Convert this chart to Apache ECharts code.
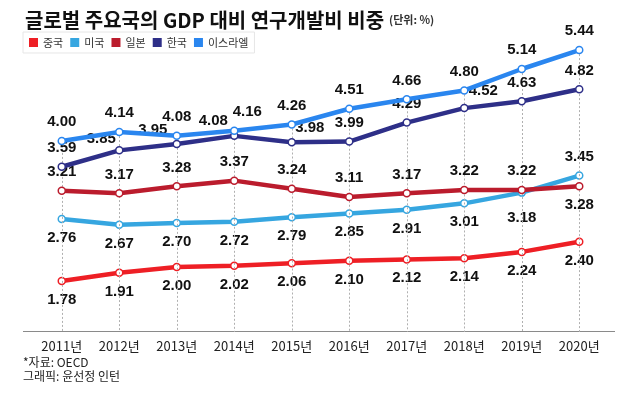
<!DOCTYPE html>
<html>
<head>
<meta charset="utf-8">
<script src="https://cdn.jsdelivr.net/npm/echarts@6/dist/echarts.min.js"></script>
<style>
html,body{margin:0;padding:0;background:#fff;}
#c{width:640px;height:395px;}
</style>
</head>
<body>
<div id="c"></div>
<script>
const years = ['2011년','2012년','2013년','2014년','2015년','2016년','2017년','2018년','2019년','2020년'];
const seriesNames = ['중국','미국','일본','한국','이스라엘'];
const china  = [1.78,1.91,2.00,2.02,2.06,2.10,2.12,2.14,2.24,2.40];
const usa    = [2.76,2.67,2.70,2.72,2.79,2.85,2.91,3.01,3.18,3.45];
const japan  = [3.21,3.17,3.28,3.37,3.24,3.11,3.17,3.22,3.22,3.28];
const korea  = [3.59,3.85,3.95,4.08,3.98,3.99,4.29,4.52,4.63,4.82];
const israel = [4.00,4.14,4.08,4.16,4.26,4.51,4.66,4.80,5.14,5.44];

const colors = ['#ee1f25','#36a6e0','#bb1c2d','#2e2f88','#2a86ef'];
const defaultPos = ['bottom','bottom','top','top','top'];
// per-point label tweaks (style only)
const labelTweaks = {
  '1-8': {offset:[0,6]},
  '1-9': {position:'top'},
  '2-9': {position:'bottom'},
  '3-1': {offset:[-18,7]},
  '3-2': {offset:[-24,5]},
  '3-3': {offset:[-21,4]},
  '3-4': {offset:[18,4]},
  '3-7': {offset:[19,1]},
  '4-3': {offset:[13,0]}
};

const Y_MIN = 0.97, Y_MAX = 5.6;
const NUM_FONT = '"Liberation Sans", Arial, sans-serif';
const KR_FONT = '"Noto Sans CJK KR", sans-serif';

const allData = [china, usa, japan, korea, israel];

const series = allData.map((arr, si) => ({
  name: seriesNames[si],
  type: 'line',
  z: 3 + si,
  data: arr.map((v, i) => {
    const t = labelTweaks[si + '-' + i];
    return t ? {value: v, label: t} : v;
  }),
  symbol: 'circle',
  symbolSize: 7,
  showAllSymbol: true,
  lineStyle: {color: colors[si], width: 4.5},
  itemStyle: {color: '#fff', borderColor: colors[si], borderWidth: 1.5},
  label: {
    show: true,
    position: defaultPos[si],
    distance: 7,
    fontSize: 15,
    fontWeight: 'bold',
    fontFamily: NUM_FONT,
    color: '#111',
    formatter: p => Number(p.value).toFixed(2)
  },
  emphasis: {disabled: true},
  animation: false
}));

// dotted guide lines from top series down to the axis
series.push({
  name: 'guide',
  type: 'line',
  z: 1,
  data: israel,
  symbol: 'none',
  lineStyle: {opacity: 0},
  silent: true,
  animation: false,
  markLine: {
    silent: true,
    symbol: 'none',
    label: {show: false},
    lineStyle: {color: '#b0b0b0', type: [2, 2], width: 1},
    data: israel.map((v, i) => [{coord: [i, v]}, {coord: [i, Y_MIN]}]),
    animation: false
  }
});

const chart = echarts.init(document.getElementById('c'), null, {renderer: 'canvas'});
chart.setOption({
  backgroundColor: '#fff',
  animation: false,
  color: colors,
  title: {
    left: 20, top: 5,
    text: '{t|글로벌 주요국의 GDP 대비 연구개발비 비중} {u|(단위: %)}',
    textStyle: {
      rich: {
        t: {fontSize: 20, fontWeight: 'bold', fontFamily: KR_FONT, color: '#111'},
        u: {fontSize: 11, fontFamily: KR_FONT, color: '#333'}
      }
    }
  },
  legend: {
    data: seriesNames.map((n, i) => ({name: n, itemStyle: {color: colors[i], borderWidth: 0}})),
    left: 23, top: 32,
    icon: 'rect',
    itemWidth: 9, itemHeight: 9,
    itemGap: 7,
    padding: [5, 6],
    borderColor: '#e6e6e6', borderWidth: 1,
    textStyle: {fontSize: 11, fontFamily: KR_FONT, color: '#333'},
    selectedMode: false
  },
  grid: {left: 33, right: 32, top: 40, bottom: 63},
  xAxis: {
    type: 'category',
    data: years,
    boundaryGap: true,
    axisLine: {show: false},
    axisTick: {show: false},
    axisLabel: {fontSize: 13, fontFamily: KR_FONT, color: '#222', margin: 8}
  },
  yAxis: {
    type: 'value', min: Y_MIN, max: Y_MAX,
    show: false,
    splitLine: {show: false}
  },
  graphic: [
    {type: 'line', shape: {x1: 23, y1: 331.5, x2: 615, y2: 331.5}, style: {stroke: '#8a8a8a', lineWidth: 1}, z: 0},
    {type: 'text', left: 23, top: 356, style: {text: '*자료: OECD', font: '12px "Noto Sans CJK KR"', fill: '#222'}},
    {type: 'text', left: 23, top: 370, style: {text: '그래픽: 윤선정 인턴', font: '12px "Noto Sans CJK KR"', fill: '#222'}}
  ],
  series: series
});
</script>
</body>
</html>
